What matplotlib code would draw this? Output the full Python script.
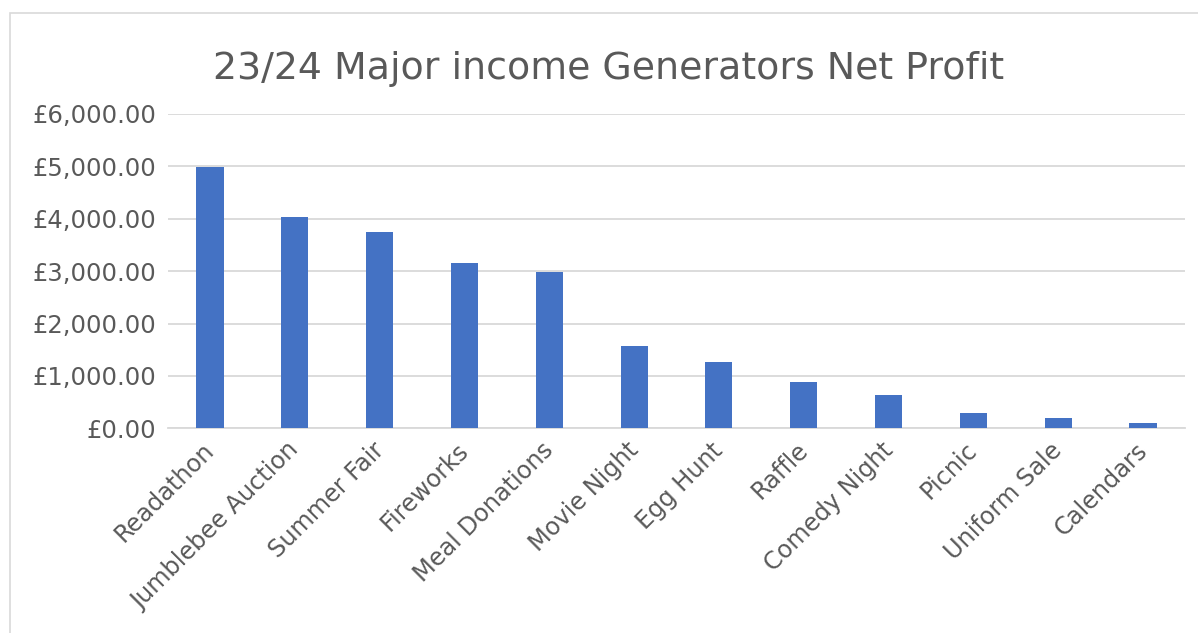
import matplotlib
matplotlib.use("Agg")
import matplotlib.pyplot as plt
from matplotlib.patches import Rectangle
from matplotlib.ticker import FuncFormatter
from matplotlib.transforms import ScaledTranslation

categories = ["Readathon", "Jumblebee Auction", "Summer Fair", "Fireworks", "Meal Donations",
              "Movie Night", "Egg Hunt", "Raffle", "Comedy Night", "Picnic", "Uniform Sale", "Calendars"]
values = [4990, 4040, 3750, 3160, 2990, 1570, 1260, 880, 630, 300, 190, 110]
title = "23/24 Major income Generators Net Profit"

TEXT = "#595959"
GRID = "#D9D9D9"
BAR = "#4472C4"

fig = plt.figure(figsize=(11.98, 6.33), dpi=100)
fig.patches.append(Rectangle((10/1198, -0.1), 1.2, 1 - 13/633 + 0.1, transform=fig.transFigure,
                             fill=False, edgecolor=GRID, linewidth=1.2))
ax = fig.add_axes([167.6/1198, 1 - 428.3/633, (1185.4-167.6)/1198, (428.3-114)/633])
x = list(range(len(categories)))
ax.bar(x, values, width=0.32, color=BAR, zorder=3)
ax.set_xlim(-0.5, len(categories) - 0.5)
ax.set_ylim(0, 6000)
ax.set_yticks([0, 1000, 2000, 3000, 4000, 5000, 6000])
ax.yaxis.set_major_formatter(FuncFormatter(lambda v, p: "£{:,.2f}".format(v)))
ax.grid(axis="y", color=GRID, linewidth=1.3, zorder=0)
for s in ["top", "right", "left"]:
    ax.spines[s].set_visible(False)
ax.spines["bottom"].set_color(GRID)
ax.spines["bottom"].set_linewidth(1.3)
ax.tick_params(axis="both", length=0, colors=TEXT, labelsize=17.5)
ax.tick_params(axis="y", pad=8)
ax.set_xticks(x)
ax.set_xticklabels(categories, rotation=45, ha="right", rotation_mode="anchor", color=TEXT, fontsize=17.3)
ax.tick_params(axis="x", pad=7)
shift = ScaledTranslation(-8/100, 0, fig.dpi_scale_trans)
for lbl in ax.get_xticklabels():
    lbl.set_transform(lbl.get_transform() + shift)
fig.text(609/1198, 1 - 69/633, title, ha="center", va="center", fontsize=27.3, color=TEXT)
fig.savefig("out.png", dpi=100)
